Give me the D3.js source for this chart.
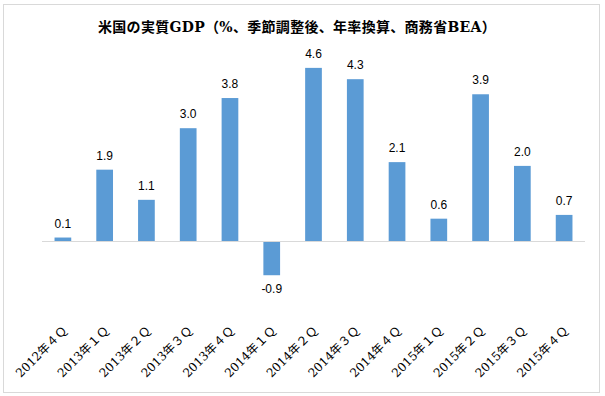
<!DOCTYPE html>
<html>
<head>
<meta charset="utf-8">
<script src="https://cdn.jsdelivr.net/npm/d3@7"></script>
<style>
  body { margin: 0; background: #fff; }
  svg { display: block; }
</style>
</head>
<body>
<div id="chart"></div>
<script>
const w = 605;
const h = 396;
const title = "米国の実質GDP（%、季節調整後、年率換算、商務省BEA）";
const quarters = [
  "2012年４Ｑ", "2013年１Ｑ", "2013年２Ｑ", "2013年３Ｑ", "2013年４Ｑ",
  "2014年１Ｑ", "2014年２Ｑ", "2014年３Ｑ", "2014年４Ｑ",
  "2015年１Ｑ", "2015年２Ｑ", "2015年３Ｑ", "2015年４Ｑ"
];
const growth = [0.1, 1.9, 1.1, 3.0, 3.8, -0.9, 4.6, 4.3, 2.1, 0.6, 3.9, 2.0, 0.7];

const data = quarters.map((q, i) => ({ q, v: growth[i] }));
const serif = "'DejaVu Serif', 'Liberation Serif', 'Noto Sans CJK JP', serif";

const svg = d3.select("#chart").append("svg").attr("width", w).attr("height", h);

// outer frame
svg.append("rect")
  .attr("x", 3.5).attr("y", 4.5)
  .attr("width", 596).attr("height", 388)
  .attr("fill", "#fff")
  .attr("stroke", "#d9d9d9");

svg.append("text")
  .attr("x", 297)
  .attr("y", 32)
  .attr("text-anchor", "middle")
  .attr("font-family", serif)
  .attr("font-weight", "bold")
  .attr("font-size", 14)
  .attr("letter-spacing", 0.3)
  .text(title);

const xScale = d3.scaleBand()
  .domain(quarters)
  .range([42, 585])
  .paddingInner(0.6)
  .paddingOuter(0.3);

const yScale = d3.scaleLinear()
  .domain([-2, 5])
  .range([316.7, 52.8]);

svg.selectAll("rect.bar")
  .data(data)
  .enter()
  .append("rect")
  .attr("class", "bar")
  .attr("x", (d) => xScale(d.q))
  .attr("width", xScale.bandwidth())
  .attr("y", (d) => yScale(Math.max(0, d.v)))
  .attr("height", (d) => Math.abs(yScale(d.v) - yScale(0)))
  .attr("fill", "#5b9bd5");

// zero line
svg.append("line")
  .attr("x1", 42).attr("x2", 585)
  .attr("y1", Math.round(yScale(0)) + 0.5)
  .attr("y2", Math.round(yScale(0)) + 0.5)
  .attr("stroke", "#d9d9d9");

svg.selectAll("text.val")
  .data(data)
  .enter()
  .append("text")
  .attr("class", "val")
  .attr("x", (d) => xScale(d.q) + xScale.bandwidth() / 2)
  .attr("y", (d) => (d.v >= 0 ? yScale(d.v) - 10 : yScale(d.v) + 18))
  .attr("text-anchor", "middle")
  .attr("font-family", "'Liberation Sans', Arial, sans-serif")
  .attr("font-size", 12)
  .attr("fill", "#000")
  .text((d) => d.v.toFixed(1));

svg.selectAll("text.tick")
  .data(quarters)
  .enter()
  .append("text")
  .attr("class", "tick")
  .attr("text-anchor", "end")
  .attr("font-family", serif)
  .attr("font-size", 12)
  .attr("fill", "#000")
  .attr("transform", (d) => `translate(${xScale(d) + xScale.bandwidth() / 2 + 5}, 331) rotate(-45)`)
  .text((d) => d);
</script>
</body>
</html>
